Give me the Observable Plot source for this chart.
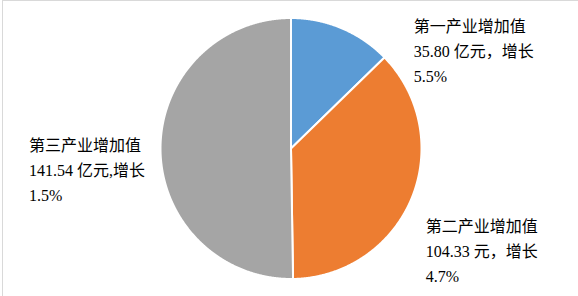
<!DOCTYPE html>
<html>
<head>
<meta charset="utf-8">
<script src="https://cdn.jsdelivr.net/npm/d3@7"></script>
<script src="https://cdn.jsdelivr.net/npm/@observablehq/plot@0.6"></script>
<style>
  body { margin: 0; background: #fff; }
  #chart { position: relative; width: 578px; height: 296px; overflow: hidden; }
  #chart .frame {
    position: absolute; left: 2px; top: 0; right: 0; bottom: 0;
    border-top: 1px solid #d9d9d9; border-left: 1px solid #d9d9d9;
    pointer-events: none;
  }
  #chart svg { position: absolute; left: 0; top: 0; }
</style>
</head>
<body>
<div id="chart"><div class="frame"></div></div>
<script>
// Value added by sector
const sectors = ["第一产业增加值", "第二产业增加值", "第三产业增加值"];
const values = [35.80, 104.33, 141.54];
const units = ["亿元，增长", "元，增长", "亿元,增长"];
const growth = ["5.5%", "4.7%", "1.5%"];

// Slice colours
const colors = ["#5b9bd5", "#ed7d31", "#a5a5a5"];

// Layout
const W = 578, H = 296;
const cx = 290.5, cy = 148, R = 130.5;
// pixel offsets of each label's left edge from its slice's outer mid-point
const labelOffsets = [[72, 21], [14, 51], [-131.5, 18]];

const rows = sectors.map((sector, i) => ({sector, value: values[i], unit: units[i], growth: growth[i]}));
const arcs = d3.pie().sort(null).value(d => d.value)(rows);

// Slice outlines as closed polygons in unit-circle coordinates (y up, angle clockwise from top)
const outline = [];
for (const a of arcs) {
  const n = Math.max(2, Math.ceil((a.endAngle - a.startAngle) / 0.005));
  outline.push({sector: a.data.sector, x: 0, y: 0});
  for (let k = 0; k <= n; ++k) {
    const t = a.startAngle + (a.endAngle - a.startAngle) * k / n;
    outline.push({sector: a.data.sector, x: Math.sin(t), y: Math.cos(t)});
  }
  outline.push({sector: a.data.sector, x: 0, y: 0});
}

const labels = arcs.map((a, i) => {
  const mid = (a.startAngle + a.endAngle) / 2;
  const [ox, oy] = labelOffsets[i];
  return {
    x: Math.sin(mid) + ox / R,
    y: Math.cos(mid) - oy / R,
    text: `${a.data.sector}\n${a.data.value.toFixed(2)} ${a.data.unit}\n${a.data.growth}`
  };
});

const chart = Plot.plot({
  width: W,
  height: H,
  marginLeft: cx - R,
  marginRight: W - cx - R,
  marginTop: cy - R,
  marginBottom: H - cy - R,
  x: {domain: [-1, 1], axis: null},
  y: {domain: [-1, 1], axis: null},
  color: {domain: sectors, range: colors},
  style: {
    fontFamily: "'Times New Roman', 'Liberation Serif', 'Noto Sans CJK SC', serif",
    fontSize: "16px",
    background: "transparent",
    overflow: "visible"
  },
  marks: [
    Plot.line(outline, {
      x: "x", y: "y", z: "sector", fill: "sector",
      stroke: "white", strokeWidth: 2, strokeLinejoin: "round", curve: "linear"
    }),
    Plot.text(labels, {
      x: "x", y: "y", text: "text",
      textAnchor: "start", lineAnchor: "middle", lineHeight: 25 / 16,
      fontSize: 16, fill: "#000"
    })
  ]
});

document.getElementById("chart").prepend(chart);
</script>
</body>
</html>
